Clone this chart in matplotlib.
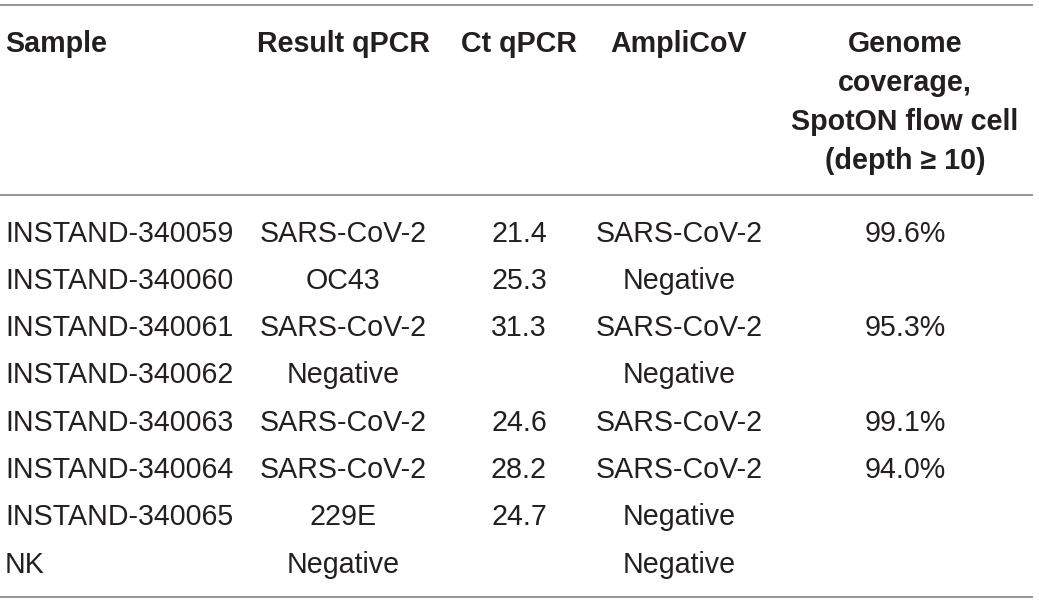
import matplotlib.pyplot as plt

plt.rcParams['font.family'] = ['Liberation Sans', 'DejaVu Sans']

headers = ["Sample", "Result qPCR", "Ct qPCR", "AmpliCoV",
           "Genome\ncoverage,\nSpotON flow cell\n(depth \u2265 10)"]
samples = ["INSTAND-340059", "INSTAND-340060", "INSTAND-340061", "INSTAND-340062",
           "INSTAND-340063", "INSTAND-340064", "INSTAND-340065", "NK"]
result_qpcr = ["SARS-CoV-2", "OC43", "SARS-CoV-2", "Negative",
               "SARS-CoV-2", "SARS-CoV-2", "229E", "Negative"]
ct_qpcr = ["21.4", "25.3", "31.3", "", "24.6", "28.2", "24.7", ""]
amplicov = ["SARS-CoV-2", "Negative", "SARS-CoV-2", "Negative",
            "SARS-CoV-2", "SARS-CoV-2", "Negative", "Negative"]
coverage = ["99.6%", "", "95.3%", "", "99.1%", "94.0%", "", ""]

fig = plt.figure(figsize=(10.39, 6.03), dpi=100)
ax = fig.add_axes([0, 0, 1, 1])
ax.set_xlim(0, 1039)
ax.set_ylim(603, 0)
ax.axis('off')

txt = '#231f20'
line_c = '#8e8e8e'
fs = 20.6

# columns: x position and alignment
col_x = [5, 343, 519, 679, 905]
col_ha = ['left', 'center', 'center', 'center', 'center']

# header, one line at a time so the line gap matches
for i, h in enumerate(headers):
    for k, part in enumerate(h.split("\n")):
        ax.text(col_x[i], 52 + k * 39, part, ha=col_ha[i], va='baseline',
                fontsize=fs, fontweight='bold', color=txt)

# rules
for y in [5, 195, 597]:
    ax.plot([0, 1033], [y, y], color=line_c, lw=1.3, solid_capstyle='butt')

columns = [samples, result_qpcr, ct_qpcr, amplicov, coverage]
row0 = 241.5
step = 47.3
for c, col in enumerate(columns):
    for r, v in enumerate(col):
        if v:
            ax.text(col_x[c], row0 + r * step, v, ha=col_ha[c], va='baseline',
                    fontsize=fs, color=txt)

fig.savefig('out.png', dpi=100)
